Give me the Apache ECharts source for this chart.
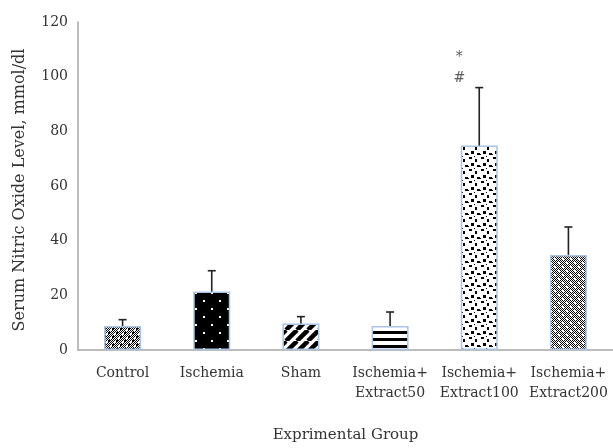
<!DOCTYPE html>
<html><head><meta charset="utf-8">
<script src="https://cdn.jsdelivr.net/npm/echarts@6/dist/echarts.min.js"></script>
<style>html,body{margin:0;padding:0;background:#fff}#c{width:613px;height:448px}</style>
</head><body><div id="c"></div>
<script>
const categories = ['Control', 'Ischemia', 'Sham', 'Ischemia+\nExtract50', 'Ischemia+\nExtract100', 'Ischemia+\nExtract200'];
const means = [8.8, 21.4, 9.7, 8.8, 74.8, 34.8];
const errorTops = [11.1, 29, 12.2, 13.9, 96, 45];
const yTicks = [0, 20, 40, 60, 80, 100, 120];
const annotations = [{cat: 'Ischemia+\nExtract100', value: 107, text: '*'}, {cat: 'Ischemia+\nExtract100', value: 99.5, text: '#'}];

function mk(w, h, draw) {
  const c = document.createElement('canvas'); c.width = w; c.height = h;
  const g = c.getContext('2d'); draw(g, w, h); return c;
}
const patterns = [
  // Control: checker dither with white patches
  mk(8, 8, (g) => { g.fillStyle = '#fff'; g.fillRect(0,0,8,8); g.fillStyle = '#000';
    for (let y=0;y<8;y++) for (let x=0;x<8;x++) { if ((x+y)%2===0) g.fillRect(x,y,1,1); }
    g.fillRect(0,0,2,2); g.fillRect(4,4,2,2); g.fillStyle = '#fff'; g.fillRect(6,1,2,2); g.fillRect(2,5,2,2); }),
  // Ischemia: black with sparse white dots
  mk(16, 16, (g) => { g.fillStyle = '#000'; g.fillRect(0,0,16,16); g.fillStyle = '#fff';
    g.fillRect(3,4,2,2); g.fillRect(11,12,2,2); }),
  // Sham: wide diagonal stripes
  mk(11, 11, (g) => { g.fillStyle = '#fff'; g.fillRect(0,0,11,11); g.strokeStyle = '#000'; g.lineWidth = 4.5;
    for (let k=-11;k<=22;k+=11){ g.beginPath(); g.moveTo(k,11); g.lineTo(k+11,0); g.stroke(); } }),
  // Extract50: horizontal stripes
  mk(7, 7, (g) => { g.fillStyle = '#fff'; g.fillRect(0,0,7,7); g.fillStyle = '#000'; g.fillRect(0,2,7,3); }),
  // Extract100: confetti
  mk(12, 12, (g) => { g.fillStyle = '#fff'; g.fillRect(0,0,12,12); g.fillStyle = '#000';
    g.fillRect(1,1,3,2); g.fillRect(7,3,2,3); g.fillRect(3,7,3,3); g.fillRect(9,9,3,2); g.fillRect(0,10,1,1); g.fillRect(6,0,1,1); }),
  // Extract200: dense checker with white sparkles
  mk(8, 8, (g) => { g.fillStyle = '#fff'; g.fillRect(0,0,8,8); g.fillStyle = '#000';
    for (let y=0;y<8;y++) for (let x=0;x<8;x++) if ((x+y)%2===0) g.fillRect(x,y,1,1);
    g.fillStyle = '#fff'; g.fillRect(2,2,2,2); g.fillRect(6,6,2,2); })
];

const chart = echarts.init(document.getElementById('c'), null, {renderer: 'canvas'});
const font = 'DejaVu Serif';
chart.setOption({
  animation: false,
  textStyle: {fontFamily: font},
  grid: {left: 78, right: 0, top: 22, bottom: 92, containLabel: false},
  xAxis: {
    type: 'category', data: categories,
    axisLine: {lineStyle: {color: '#a6a6a6', width: 1.5}},
    axisTick: {show: false},
    axisLabel: {color: '#333', fontSize: 14, fontFamily: font, margin: 13, lineHeight: 20, interval: 0},
    name: 'Exprimental Group', nameLocation: 'middle', nameGap: 78,
    nameTextStyle: {color: '#333', fontSize: 15, fontFamily: font}
  },
  yAxis: {
    type: 'value', min: 0, max: 120, interval: 20,
    axisLine: {show: true, lineStyle: {color: '#a6a6a6', width: 1.5}},
    axisTick: {show: false}, splitLine: {show: false},
    axisLabel: {color: '#333', fontSize: 14, fontFamily: font, margin: 10,
      formatter: (v) => yTicks.includes(v) ? String(v) : ''},
    name: 'Serum Nitric Oxide Level, mmol/dl', nameLocation: 'middle', nameGap: 50, nameRotate: 90,
    nameTextStyle: {color: '#333', fontSize: 16, fontFamily: font, padding: [0, 8, 0, 0]}
  },
  series: [
    {
      type: 'bar', barWidth: 37,
      data: means.map((v, i) => ({value: v, itemStyle: {color: {image: patterns[i], repeat: 'repeat'}, borderColor: '#aac4e4', borderWidth: 1.5}})),
      z: 2
    },
    {
      type: 'custom', z: 3,
      data: categories.map((c, i) => [i, means[i], errorTops[i]]),
      renderItem: (params, api) => {
        const x = api.value(0);
        const p0 = api.coord([x, api.value(1)]);
        const p1 = api.coord([x, api.value(2)]);
        const st = {stroke: '#222', lineWidth: 1.6};
        return {type: 'group', children: [
          {type: 'line', shape: {x1: p0[0], y1: p0[1], x2: p1[0], y2: p1[1]}, style: st},
          {type: 'line', shape: {x1: p1[0]-4, y1: p1[1], x2: p1[0]+4, y2: p1[1]}, style: st}
        ]};
      }
    },
    {
      type: 'scatter', symbolSize: 0, z: 4,
      data: annotations.map(a => ({value: [a.cat, a.value], label: {show: true, formatter: a.text, position: 'inside', offset: [-20, 0], color: '#333', fontSize: 14, fontFamily: font}}))
    }
  ]
});
</script></body></html>
